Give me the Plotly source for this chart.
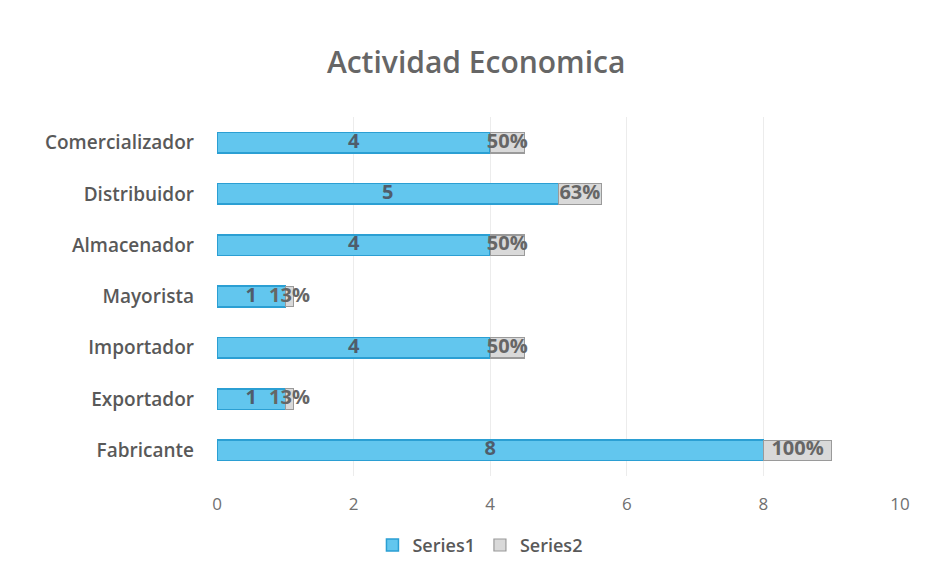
import plotly.graph_objects as go

categories = ["Fabricante", "Exportador", "Importador", "Mayorista", "Almacenador", "Distribuidor", "Comercializador"]
series1 = [8, 1, 4, 1, 4, 5, 4]
series2 = [1.0, 0.125, 0.5, 0.125, 0.5, 0.625, 0.5]
series2_labels = ["100%", "13%", "50%", "13%", "50%", "63%", "50%"]
x_ticks = [0, 2, 4, 6, 8, 10]

FONT = "Open Sans"
TXT = "#595959"

fig = go.Figure()
fig.add_trace(go.Bar(
    y=categories, x=series1, orientation="h", name="Series1",
    marker=dict(color="#62c6ee", line=dict(color="#2b9fd3", width=1.5)),
    width=0.4,
))
fig.add_trace(go.Bar(
    y=categories, x=series2, orientation="h", name="Series2",
    marker=dict(color="#d9d9d9", line=dict(color="#9a9a9a", width=1.2)),
    width=0.4,
))
# data labels
fig.add_trace(go.Scatter(
    y=categories, x=[v / 2 for v in series1], mode="text",
    text=[str(v) for v in series1], showlegend=False, hoverinfo="skip",
    textfont=dict(family=FONT, size=20, color="#4f5d6b", weight="bold"),
))
fig.add_trace(go.Scatter(
    y=categories, x=[a + b / 2 for a, b in zip(series1, series2)], mode="text",
    text=series2_labels, showlegend=False, hoverinfo="skip",
    textfont=dict(family=FONT, size=20, color="#666666", weight="bold"),
))

fig.update_layout(
    barmode="stack",
    width=930, height=571,
    margin=dict(l=217, r=30, t=117, b=95, autoexpand=False),
    paper_bgcolor="white", plot_bgcolor="white",
    title=dict(text="Actividad Economica", x=0.512, xanchor="center", y=0.89, yanchor="middle",
               font=dict(family=FONT, size=30, color="#666666", weight=600)),
    xaxis=dict(range=[0, 10], tickvals=x_ticks, showgrid=True, gridcolor="#ececec", gridwidth=1,
               zeroline=False, showline=False, ticklabelstandoff=16, automargin=False,
               tickfont=dict(family=FONT, size=17, color="#707070")),
    yaxis=dict(categoryorder="array", categoryarray=categories, showgrid=False, showline=False,
               ticks="", ticklabelstandoff=22, automargin=False,
               tickfont=dict(family=FONT, size=19, color=TXT, weight=600)),
    legend=dict(orientation="h", x=0.385, xanchor="center", yref="container", y=0.045, yanchor="middle",
                font=dict(family=FONT, size=18, color=TXT, weight=600), traceorder="normal"),
    showlegend=True,
)
fig.write_html("out.html")
